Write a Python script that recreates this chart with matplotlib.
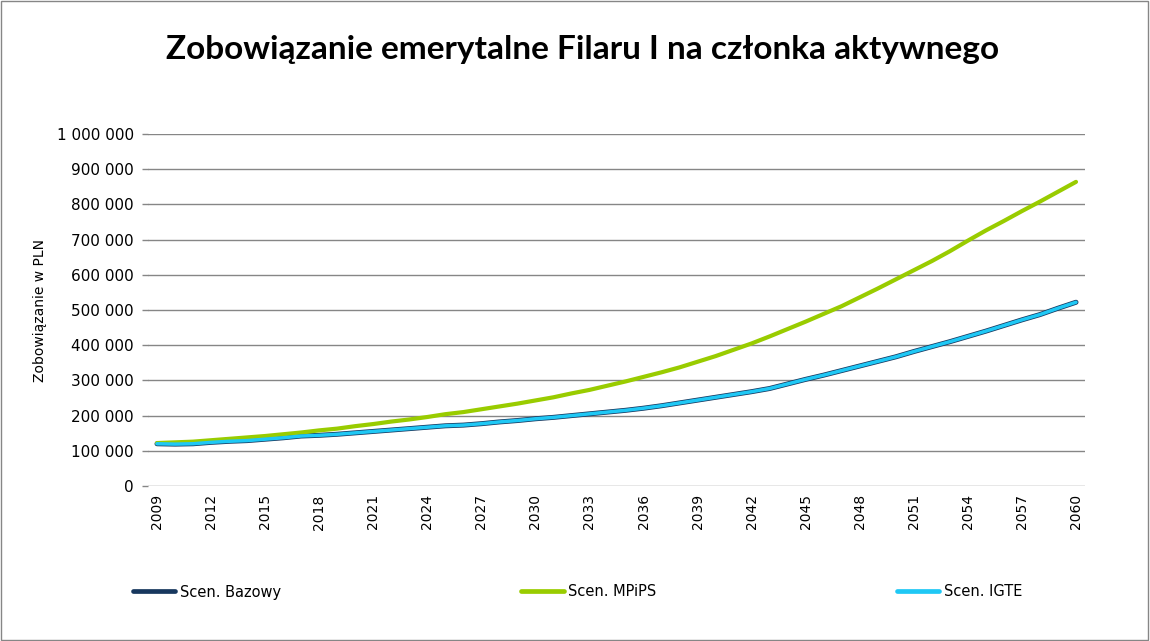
import matplotlib.pyplot as plt
import numpy as np
from matplotlib.patches import Rectangle
from matplotlib.ticker import FuncFormatter, MultipleLocator

# Data (values in thousand PLN)
years = list(range(2009, 2061))

mpips = [
    122, 124, 126, 130, 134, 138, 142, 147, 152, 158,
    163, 170, 176, 183, 189, 196, 204, 210, 218, 226,
    234, 243, 252, 263, 273, 285, 297, 310, 323, 337,
    353, 369, 387, 405, 425, 446, 467, 489, 511, 536,
    561, 587, 613, 639, 667, 697, 726, 753, 781, 808,
    836, 864,
]

bazowy = [
    120, 119, 120, 124, 127, 129, 133, 137, 142, 144,
    147, 151, 155, 159, 163, 167, 171, 173, 177, 182,
    186, 191, 195, 200, 205, 210, 215, 221, 228, 236,
    244, 252, 260, 268, 277, 290, 303, 315, 328, 341,
    354, 367, 382, 396, 410, 425, 440, 456, 472, 487,
    505, 522,
]

igte = list(bazowy)

series_labels = ["Scen. Bazowy", "Scen. MPiPS", "Scen. IGTE"]
colors = {"bazowy": "#17375E", "mpips": "#99CC00", "igte": "#1FC8F5"}

title = "Zobowiązanie emerytalne Filaru I na członka aktywnego"
ylabel = "Zobowiązanie w PLN"


def thousands_space(v, pos):
    return f"{v:,.0f}".replace(",", " ")


fig = plt.figure(figsize=(11.5, 6.41), dpi=100)
ax = fig.add_axes([148 / 1150, 1 - 486 / 641, (1085 - 148) / 1150, (486 - 134) / 641])

x = np.arange(len(years))
ax.plot(x, np.array(bazowy) * 1000, color=colors["bazowy"], lw=3.6,
        solid_capstyle="round", label=series_labels[0], zorder=3)
ax.plot(x, np.array(mpips) * 1000, color=colors["mpips"], lw=3.0,
        solid_capstyle="round", label=series_labels[1], zorder=3)
ax.plot(x, np.array(igte) * 1000, color=colors["igte"], lw=2.5,
        solid_capstyle="round", label=series_labels[2], zorder=4)

ax.set_xlim(-0.5, len(years) - 0.5)
ax.set_ylim(0, 1_000_000)
ax.yaxis.set_major_locator(MultipleLocator(100_000))
ax.yaxis.set_major_formatter(FuncFormatter(thousands_space))

ax.set_xticks(x[::3])
ax.set_xticklabels([str(y) for y in years[::3]], rotation=90, fontsize=10)
ax.tick_params(axis="x", length=0, pad=6)
ax.tick_params(axis="y", length=4, color="#868686", width=1, pad=6,
               labelsize=11)

ax.grid(axis="y", color="#868686", lw=1)
ax.set_axisbelow(True)
for s in ["top", "right", "left", "bottom"]:
    ax.spines[s].set_visible(False)

fig.text(40 / 1150, 1 - 311 / 641, ylabel, rotation=90, ha="center", va="center",
         fontsize=10)

fig.text(583 / 1150, 1 - 50 / 641, title, ha="center", va="center",
         fontsize=24, fontweight="bold", family="Lato")

handles, labels = ax.get_legend_handles_labels()
leg = fig.legend(handles, labels, loc="center left", ncol=3,
                 bbox_to_anchor=(133 / 1150, 1 - 592 / 641), frameon=False,
                 fontsize=10.5, handlelength=2.9, handletextpad=0.3,
                 columnspacing=16.5, borderpad=0, borderaxespad=0)
for line in leg.get_lines():
    line.set_linewidth(3.4)

fig.add_artist(Rectangle((0.001, 0.002), 0.997, 0.996, transform=fig.transFigure,
                         fill=False, edgecolor="#868686", lw=1))

fig.savefig("out.png", dpi=100)
